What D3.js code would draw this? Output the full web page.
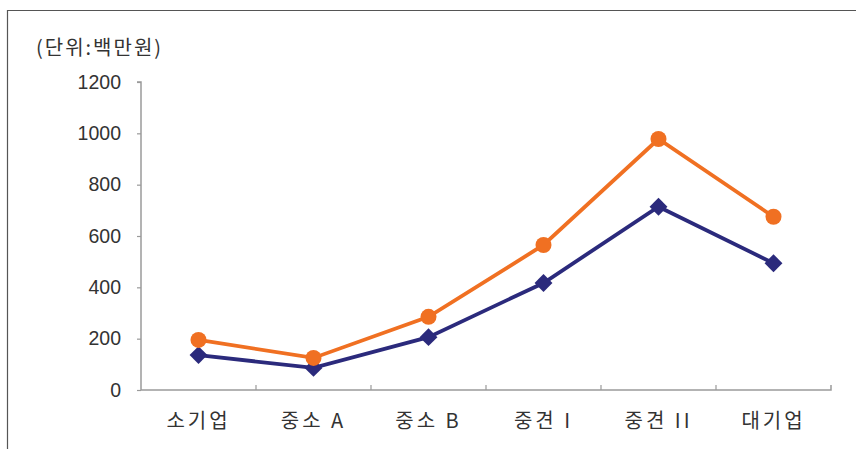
<!DOCTYPE html>
<html><head><meta charset="utf-8">
<script src="https://cdn.jsdelivr.net/npm/d3@7"></script>
<style>body{margin:0;background:#fff;}</style>
</head><body>
<svg id="c" width="856" height="449"></svg>
<script>
const categories = ["소기업", "중소 A", "중소 B", "중견 I", "중견 II", "대기업"];
const seriesOrange = [195, 125, 285, 565, 978, 675];
const seriesNavy = [136, 86, 206, 417, 714, 494];
const yTicks = [0, 200, 400, 600, 800, 1000, 1200];
const unitLabel = "(단위:백만원)";

const korFont = "'Noto Sans CJK KR', 'Noto Sans', sans-serif";
const numFont = "'Liberation Sans', Arial, sans-serif";

const svg = d3.select("#c");
// frame
svg.append("path").attr("d", "M7.5,449 V10.5 H856").attr("fill", "none").attr("stroke", "#555").attr("stroke-width", 1.2);

const x0 = 141, x1 = 831, yTop = 82, yBot = 390;
const x = d3.scaleBand().domain(categories).range([x0, x1]).padding(0);
const y = d3.scaleLinear().domain([0, 1200]).range([yBot, yTop]);

const axisColor = "#9a9a9a";
// y axis
const ya = svg.append("g").attr("transform", `translate(${x0},0)`)
  .call(d3.axisLeft(y).tickValues(yTicks).tickSize(4).tickPadding(16).tickFormat(d3.format("d")));
ya.attr("font-size", null).attr("font-family", null);
ya.select(".domain").attr("stroke", axisColor).attr("stroke-width", 1.5).attr("d", `M-4,${yTop}H0V${yBot}`);
ya.selectAll(".tick line").attr("stroke", axisColor).attr("stroke-width", 1.2);
ya.selectAll(".tick text").style("font-size", "19.5px").attr("fill", "#333").style("font-family", numFont);

// x axis
const xa = svg.append("g").attr("transform", `translate(0,${yBot})`)
  .call(d3.axisBottom(x).tickSize(0).tickPadding(0));
xa.attr("font-size", null).attr("font-family", null);
xa.select(".domain").attr("stroke", axisColor).attr("stroke-width", 1.5).attr("d", `M${x0},0H${x1}V-5`);
xa.selectAll(".tick text").attr("dy", null).attr("y", 38).style("font-size", "20px").style("white-space", "pre")
  .attr("letter-spacing", 3).attr("fill", "#333").style("font-family", korFont);
// category boundary ticks (inward)
svg.append("g").selectAll("line").data(categories.slice(1)).join("line")
  .attr("x1", d => x(d)).attr("x2", d => x(d)).attr("y1", yBot).attr("y2", yBot - 5)
  .attr("stroke", axisColor).attr("stroke-width", 1.2);

svg.append("text").attr("x", 36).attr("y", 55).style("font-size", "20px").style("font-family", korFont)
  .attr("fill", "#333").attr("letter-spacing", 2).text(unitLabel);

const cx = d => x(d) + x.bandwidth() / 2;
const line = d3.line().x((d, i) => cx(categories[i])).y(d => y(d));

const orange = "#f07022", navy = "#2b2a7c";
svg.append("path").datum(seriesNavy).attr("d", line).attr("fill", "none").attr("stroke", navy).attr("stroke-width", 3.8);
svg.append("path").datum(seriesOrange).attr("d", line).attr("fill", "none").attr("stroke", orange).attr("stroke-width", 3.8);

svg.append("g").selectAll("path").data(seriesNavy).join("path")
  .attr("d", d3.symbol().type(d3.symbolSquare).size(160))
  .attr("transform", (d, i) => `translate(${cx(categories[i])},${y(d)}) rotate(45)`)
  .attr("fill", navy);
svg.append("g").selectAll("circle").data(seriesOrange).join("circle")
  .attr("cx", (d, i) => cx(categories[i])).attr("cy", d => y(d)).attr("r", 8)
  .attr("fill", orange);
</script>
</body></html>
